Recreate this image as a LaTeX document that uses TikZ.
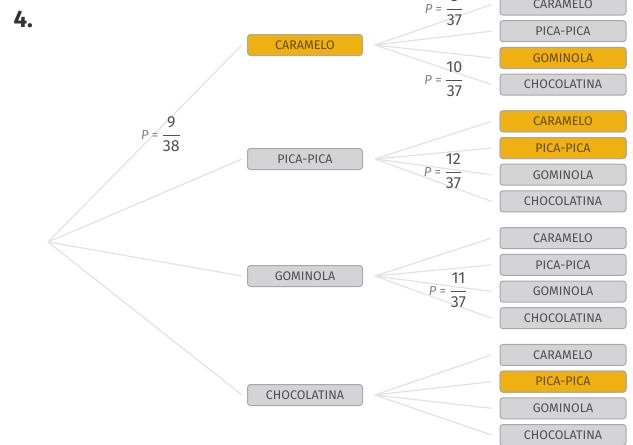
\documentclass[tikz,border=0pt]{standalone}
\usepackage{amsmath}
\usepackage{fontspec}
\setmainfont{Fira Sans}
\usetikzlibrary{positioning}
\definecolor{cajagris}{RGB}{212,212,214}
\definecolor{bordegris}{RGB}{168,168,170}
\definecolor{naranja}{RGB}{239,177,17}
\definecolor{textogris}{RGB}{80,80,80}
\definecolor{textonar}{RGB}{100,75,14}
\definecolor{rama}{RGB}{226,226,226}
\tikzset{caja/.style={rectangle, draw=bordegris, fill=cajagris, line width=1pt,
    rounded corners=3pt, minimum height=21pt, text=textogris,
    font=\fontsize{12.5}{12.5}\selectfont},
  nivel1/.style={caja, minimum width=115pt},
  hoja/.style={caja, minimum width=126pt},
  elegido/.style={fill=naranja, text=textonar},
  rama/.style={draw=rama, line width=1.2pt},
  prob/.style={inner sep=0pt, font=\fontsize{16}{17}\selectfont, text=textogris}}
\newcommand{\probab}[2]{{\color{gray}\fontsize{13}{13}\selectfont\itshape P \upshape= }%
  $\dfrac{\text{#1}}{\text{#2}}$}

\begin{document}
\begin{tikzpicture}[x=1pt, y=-1pt]
    \useasboundingbox (0,0) rectangle (633,445);
    \node[anchor=base west, font=\bfseries\fontsize{24}{24}\selectfont, text=black!80] (num) at (10,27) {4.};
    \coordinate (raiz) at (48,242);

    % primera extraccion
    \node [nivel1, elegido] (c1) at (305,45) {CARAMELO};
    \node [nivel1] (c2) at (305,159) {PICA-PICA};
    \node [nivel1] (c3) at (305,276) {GOMINOLA};
    \node [nivel1] (c4) at (305,395) {CHOCOLATINA};

    % segunda extraccion
    \foreach \g in {1,...,4}
      \foreach \k/\nom in {1/CARAMELO, 2/PICA-PICA, 3/GOMINOLA, 4/CHOCOLATINA}
        \node [hoja] (h\g-\k) at (563, {4.5 + 116.8*(\g-1) + 26.7*(\k-1)}) {\nom};
    \node [hoja, elegido] at (h1-3) {GOMINOLA};
    \node [hoja, elegido] at (h2-1) {CARAMELO};
    \node [hoja, elegido] at (h2-2) {PICA-PICA};
    \node [hoja, elegido] at (h4-2) {PICA-PICA};

    \foreach \g in {1,...,4} {
      \path [rama] (raiz) -- ([xshift=-5pt]c\g.west);
      \foreach \k in {1,...,4}
        \path [rama] ([xshift=12pt]c\g.east) -- ([xshift=-8pt]h\g-\k.west);
    }

    \node [prob] (p0) at (161,134) {\probab{9}{38}};
    \node [prob] (p1) at (444,8) {\probab{8}{37}};
    \node [prob] (p2) at (444,79) {\probab{10}{37}};
    \node [prob] (p3) at (443,171) {\probab{12}{37}};
    \node [prob] (p4) at (448,290) {\probab{11}{37}};
\end{tikzpicture}
\end{document}
